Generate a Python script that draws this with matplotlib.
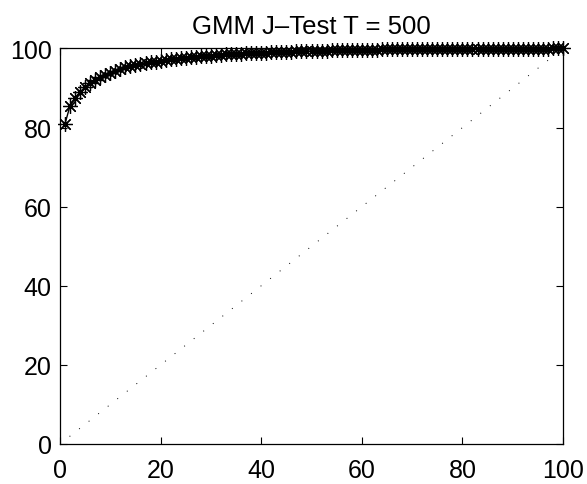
import numpy as np
import matplotlib.pyplot as plt

plt.rcParams['font.family'] = ['Liberation Sans', 'DejaVu Sans']

lags = list(range(1, 101))
power = [81.0, 85.5, 87.5, 89.0, 90.3, 91.3, 92.1, 92.8, 93.4, 93.9,
         94.4, 94.8, 95.2, 95.5, 95.8, 96.1, 96.3, 96.5, 96.7, 96.9,
         97.1, 97.3, 97.4, 97.6, 97.7, 97.8, 97.9, 98.0, 98.1, 98.2,
         98.3, 98.4, 98.5, 98.55, 98.6, 98.7, 98.75, 98.8, 98.85, 98.9,
         98.95, 99.0, 99.05, 99.1, 99.15, 99.2, 99.25, 99.3, 99.3, 99.35,
         99.4, 99.4, 99.45, 99.5, 99.5, 99.55, 99.6, 99.6, 99.65, 99.65,
         99.7, 99.7, 99.7, 99.75, 99.75, 99.8, 99.8, 99.8, 99.8, 99.85,
         99.85, 99.85, 99.9, 99.9, 99.9, 99.9, 99.9, 99.92, 99.93, 99.94,
         99.95, 99.95, 99.95, 99.96, 99.96, 99.96, 99.97, 99.97, 99.97, 99.97,
         99.98, 99.98, 99.98, 99.98, 99.99, 99.99, 99.99, 100.0, 100.0, 100.0]
diag = [0, 100]

fig = plt.figure(figsize=(5.87, 4.85), dpi=100)
ax = fig.add_axes([0.1022, 0.0825, 0.857, 0.8155])

ax.plot(lags, power, color='black', linewidth=1.0, marker=(8, 2, 0),
        markersize=10.5, markeredgewidth=0.9, clip_on=False, zorder=3)
ax.plot(diag, diag, color='black', linewidth=0.7, linestyle=(0, (1, 11.5)))

ax.set_xlim(0, 100)
ax.set_ylim(0, 100)
ax.set_xticks([0, 20, 40, 60, 80, 100])
ax.set_yticks([0, 20, 40, 60, 80, 100])
ax.tick_params(direction='in', top=True, right=True, labelsize=18, length=5, width=0.8)
ax.tick_params(axis='x', pad=10)
ax.tick_params(axis='y', pad=6)
for s in ax.spines.values():
    s.set_linewidth(0.9)
ax.set_title('GMM J\u2013Test T = 500', fontsize=18.5, pad=11)

plt.savefig('out.png', dpi=100)
plt.close()
